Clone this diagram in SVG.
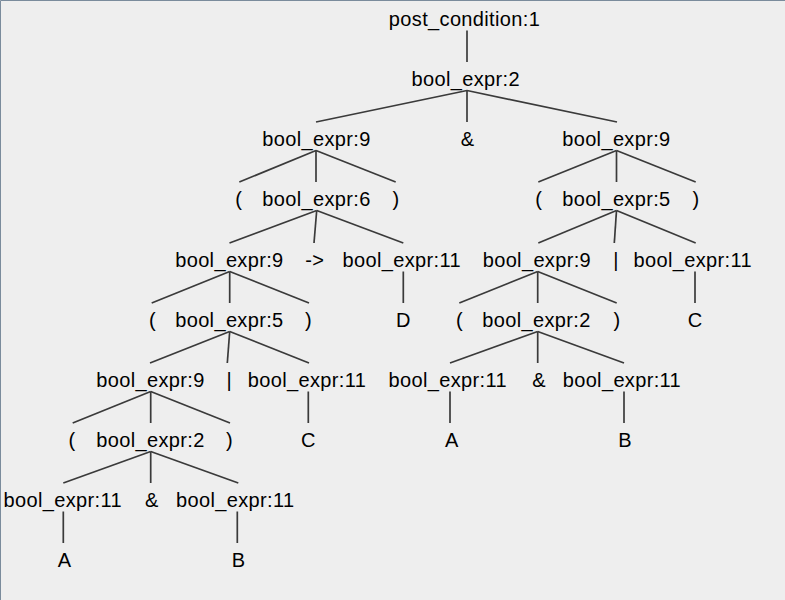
<svg xmlns="http://www.w3.org/2000/svg" width="785" height="600" viewBox="0 0 785 600">
<style>
text{font-family:"Liberation Sans",Arial,sans-serif;font-size:20px;letter-spacing:0.35px;fill:#000;text-anchor:middle}
.c line{stroke:#3a3a3a;stroke-width:1.7;fill:none}
</style>
<rect x="0" y="0" width="785" height="600" fill="#eeeeee"/>
<path d="M0.5,600 V0.5 H785" fill="none" stroke="#7a8b9c" stroke-width="1"/>
<g class="c" id="connectors">
<line x1="467" y1="30.5" x2="467" y2="62"/>
<line x1="467" y1="90.5" x2="316" y2="122"/>
<line x1="467" y1="90.5" x2="467" y2="122"/>
<line x1="467" y1="90.5" x2="617" y2="122"/>
<line x1="316" y1="150.5" x2="239.3" y2="182"/>
<line x1="316" y1="150.5" x2="316" y2="182"/>
<line x1="316" y1="150.5" x2="395.7" y2="182"/>
<line x1="616.5" y1="150.5" x2="538.3" y2="182"/>
<line x1="616.5" y1="150.5" x2="616.5" y2="182"/>
<line x1="616.5" y1="150.5" x2="695.7" y2="182"/>
<line x1="316.7" y1="210.5" x2="229.5" y2="243"/>
<line x1="316.7" y1="210.5" x2="314" y2="243"/>
<line x1="316.7" y1="210.5" x2="403.3" y2="243"/>
<line x1="616.5" y1="210.5" x2="538.3" y2="243"/>
<line x1="616.5" y1="210.5" x2="614.3" y2="243"/>
<line x1="616.5" y1="210.5" x2="695.7" y2="243"/>
<line x1="229.7" y1="271.5" x2="151.7" y2="303"/>
<line x1="229.7" y1="271.5" x2="229.7" y2="303"/>
<line x1="229.7" y1="271.5" x2="309" y2="303"/>
<line x1="403.3" y1="271.5" x2="403.3" y2="303"/>
<line x1="537.7" y1="271.5" x2="459.3" y2="303"/>
<line x1="537.7" y1="271.5" x2="537.7" y2="303"/>
<line x1="537.7" y1="271.5" x2="616.7" y2="303"/>
<line x1="695" y1="271.5" x2="695" y2="303"/>
<line x1="229.7" y1="331.5" x2="150" y2="363"/>
<line x1="229.7" y1="331.5" x2="227.3" y2="363"/>
<line x1="229.7" y1="331.5" x2="309" y2="363"/>
<line x1="537.7" y1="331.5" x2="450" y2="363"/>
<line x1="537.7" y1="331.5" x2="537.7" y2="363"/>
<line x1="537.7" y1="331.5" x2="624" y2="363"/>
<line x1="150.7" y1="391.5" x2="72.7" y2="423"/>
<line x1="150.7" y1="391.5" x2="150.7" y2="423"/>
<line x1="150.7" y1="391.5" x2="230" y2="423"/>
<line x1="308.3" y1="391.5" x2="308.3" y2="423"/>
<line x1="450" y1="391.5" x2="450" y2="423"/>
<line x1="624" y1="391.5" x2="624" y2="423"/>
<line x1="150.7" y1="451.5" x2="63.3" y2="483"/>
<line x1="150.7" y1="451.5" x2="150.7" y2="483"/>
<line x1="150.7" y1="451.5" x2="238.3" y2="483"/>
<line x1="63.3" y1="511.5" x2="63.3" y2="543"/>
<line x1="237.3" y1="511.5" x2="237.3" y2="543"/>
</g>
<g id="n1"><text x="464.5" y="26">post_condition:1</text></g>
<g id="n2"><text x="465.7" y="86">bool_expr:2</text></g>
<g id="n3"><text x="316.5" y="146">bool_expr:9</text></g>
<g id="n4"><text x="467.5" y="146">&amp;</text></g>
<g id="n5"><text x="616.4" y="146">bool_expr:9</text></g>
<g id="n6"><text x="238.7" y="206">(</text></g>
<g id="n7"><text x="316.5" y="206">bool_expr:6</text></g>
<g id="n8"><text x="395.9" y="206">)</text></g>
<g id="n9"><text x="538.7" y="206">(</text></g>
<g id="n10"><text x="616.4" y="206">bool_expr:5</text></g>
<g id="n11"><text x="695.9" y="206">)</text></g>
<g id="n12"><text x="229.4" y="267">bool_expr:9</text></g>
<g id="n13"><text x="314.7" y="267">-&gt;</text></g>
<g id="n14"><text x="401.7" y="267">bool_expr:11</text></g>
<g id="n15"><text x="536.9" y="267">bool_expr:9</text></g>
<g id="n16"><text x="615.9" y="267">|</text></g>
<g id="n17"><text x="692.7" y="267">bool_expr:11</text></g>
<g id="n18"><text x="152.5" y="327">(</text></g>
<g id="n19"><text x="229.4" y="327">bool_expr:5</text></g>
<g id="n20"><text x="308.5" y="327">)</text></g>
<g id="n21"><text x="403.5" y="327">D</text></g>
<g id="n22"><text x="459.5" y="327">(</text></g>
<g id="n23"><text x="536.5" y="327">bool_expr:2</text></g>
<g id="n24"><text x="616.9" y="327">)</text></g>
<g id="n25"><text x="695.2" y="327">C</text></g>
<g id="n26"><text x="150.5" y="387">bool_expr:9</text></g>
<g id="n27"><text x="229.2" y="387">|</text></g>
<g id="n28"><text x="307" y="387">bool_expr:11</text></g>
<g id="n29"><text x="447.7" y="387">bool_expr:11</text></g>
<g id="n30"><text x="539.2" y="387">&amp;</text></g>
<g id="n31"><text x="621.9" y="387">bool_expr:11</text></g>
<g id="n32"><text x="71.9" y="447">(</text></g>
<g id="n33"><text x="150.5" y="447">bool_expr:2</text></g>
<g id="n34"><text x="229.5" y="447">)</text></g>
<g id="n35"><text x="308.5" y="447">C</text></g>
<g id="n36"><text x="451.9" y="447">A</text></g>
<g id="n37"><text x="625.2" y="447">B</text></g>
<g id="n38"><text x="62.7" y="507">bool_expr:11</text></g>
<g id="n39"><text x="151.9" y="507">&amp;</text></g>
<g id="n40"><text x="235.2" y="507">bool_expr:11</text></g>
<g id="n41"><text x="64.5" y="567">A</text></g>
<g id="n42"><text x="238.5" y="567">B</text></g>
</svg>
